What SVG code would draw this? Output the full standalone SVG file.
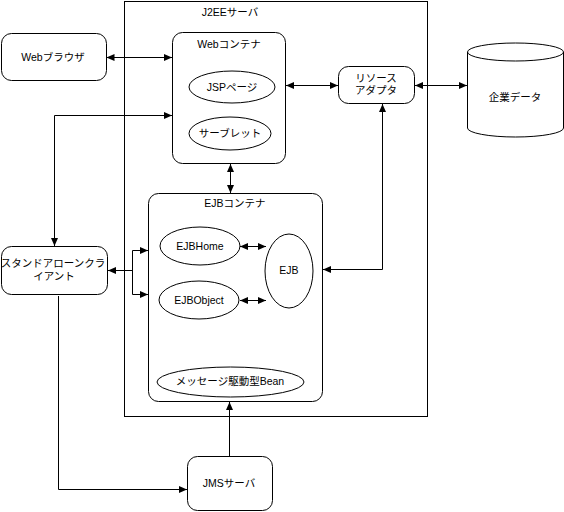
<svg xmlns="http://www.w3.org/2000/svg" width="564" height="512" viewBox="0 0 564 512">
<style>
  .box{fill:#fff;stroke:#000;stroke-width:1}
  .shape{fill:#fff;stroke:#000;stroke-width:1}
  .t{font-family:"Liberation Sans","Noto Sans CJK JP",sans-serif;font-size:10.5px;fill:#000;text-anchor:middle;dominant-baseline:central}
  .c{fill:none;stroke:#000;stroke-width:1}
</style>
<defs>
  <marker id="ah" viewBox="0 0 8 7" refX="8" refY="3.5" markerWidth="8" markerHeight="7" markerUnits="userSpaceOnUse" orient="auto-start-reverse">
    <path d="M0,0 L8,3.5 L0,7 z" fill="#000"/>
  </marker>
</defs>
<rect width="564" height="512" fill="#fff"/>

<g id="j2ee-server">
  <rect class="box" x="124.5" y="1.5" width="303" height="415"/>
  <text class="t" x="230" y="12">J2EEサーバ</text>
</g>

<g id="web-browser">
  <rect class="box" x="1.5" y="33.5" width="105" height="47" rx="10"/>
  <text class="t" x="53" y="57">Webブラウザ</text>
</g>

<g id="web-container">
  <rect class="box" x="172.5" y="32.5" width="113" height="131" rx="10"/>
  <text class="t" x="229" y="44">Webコンテナ</text>
</g>
<g id="jsp">
  <ellipse class="shape" cx="232" cy="87" rx="43" ry="16"/>
  <text class="t" x="232" y="87">JSPページ</text>
</g>
<g id="servlet">
  <ellipse class="shape" cx="230" cy="133.5" rx="41" ry="16.5"/>
  <text class="t" x="230" y="133">サーブレット</text>
</g>

<g id="resource-adapter">
  <rect class="box" x="338.5" y="66.5" width="76" height="37" rx="10"/>
  <text class="t" x="376" y="78">リソース</text>
  <text class="t" x="376" y="90">アダプタ</text>
</g>

<g id="enterprise-data">
  <path class="shape" d="M467.5,52 A48,9 0 0 1 563.5,52 V128 A48,9 0 0 1 467.5,128 Z"/>
  <path class="c" d="M467.5,52 A48,9 0 0 0 563.5,52"/>
  <text class="t" x="515" y="97">企業データ</text>
</g>

<g id="ejb-container">
  <rect class="box" x="148.5" y="193.5" width="174" height="208" rx="10"/>
  <text class="t" x="235" y="203">EJBコンテナ</text>
</g>
<g id="ejbhome">
  <ellipse class="shape" cx="200" cy="246" rx="40" ry="19"/>
  <text class="t" x="200" y="246">EJBHome</text>
</g>
<g id="ejbobject">
  <ellipse class="shape" cx="199" cy="300" rx="40" ry="19"/>
  <text class="t" x="199" y="300">EJBObject</text>
</g>
<g id="ejb">
  <ellipse class="shape" cx="289" cy="271" rx="24" ry="37"/>
  <text class="t" x="289" y="270">EJB</text>
</g>
<g id="mdb">
  <ellipse class="shape" cx="230.5" cy="382" rx="73.5" ry="15"/>
  <text class="t" x="230" y="381">メッセージ駆動型Bean</text>
</g>

<g id="standalone-client">
  <rect class="box" x="1.5" y="246.5" width="106" height="48" rx="10"/>
  <text class="t" x="53" y="263">スタンドアローンクラ</text>
  <text class="t" x="54" y="276">イアント</text>
</g>

<g id="jms-server">
  <rect class="box" x="187.5" y="456.5" width="85" height="54" rx="10"/>
  <text class="t" x="229" y="483">JMSサーバ</text>
</g>

<g id="connectors">
  <path class="c" d="M106.5,57.5 H172" marker-start="url(#ah)" marker-end="url(#ah)"/>
  <path class="c" d="M54.5,246 V115.5 H172" marker-start="url(#ah)" marker-end="url(#ah)"/>
  <path class="c" d="M230.5,164 V193" marker-start="url(#ah)" marker-end="url(#ah)"/>
  <path class="c" d="M286,85.5 H338" marker-start="url(#ah)" marker-end="url(#ah)"/>
  <path class="c" d="M415,85.5 H467" marker-start="url(#ah)" marker-end="url(#ah)"/>
  <path class="c" d="M382.5,104 V269.5 H323" marker-start="url(#ah)" marker-end="url(#ah)"/>
  <path class="c" d="M148,250.5 H132.5 V294.5 H148" marker-start="url(#ah)" marker-end="url(#ah)"/>
  <path class="c" d="M132.5,270.5 H108" marker-end="url(#ah)"/>
  <path class="c" d="M240,246.5 H266" marker-start="url(#ah)" marker-end="url(#ah)"/>
  <path class="c" d="M240,300.5 H266" marker-start="url(#ah)" marker-end="url(#ah)"/>
  <path class="c" d="M229.5,456 V402" marker-end="url(#ah)"/>
  <path class="c" d="M58.5,296 V489.5 H187" marker-end="url(#ah)"/>
</g>
</svg>
